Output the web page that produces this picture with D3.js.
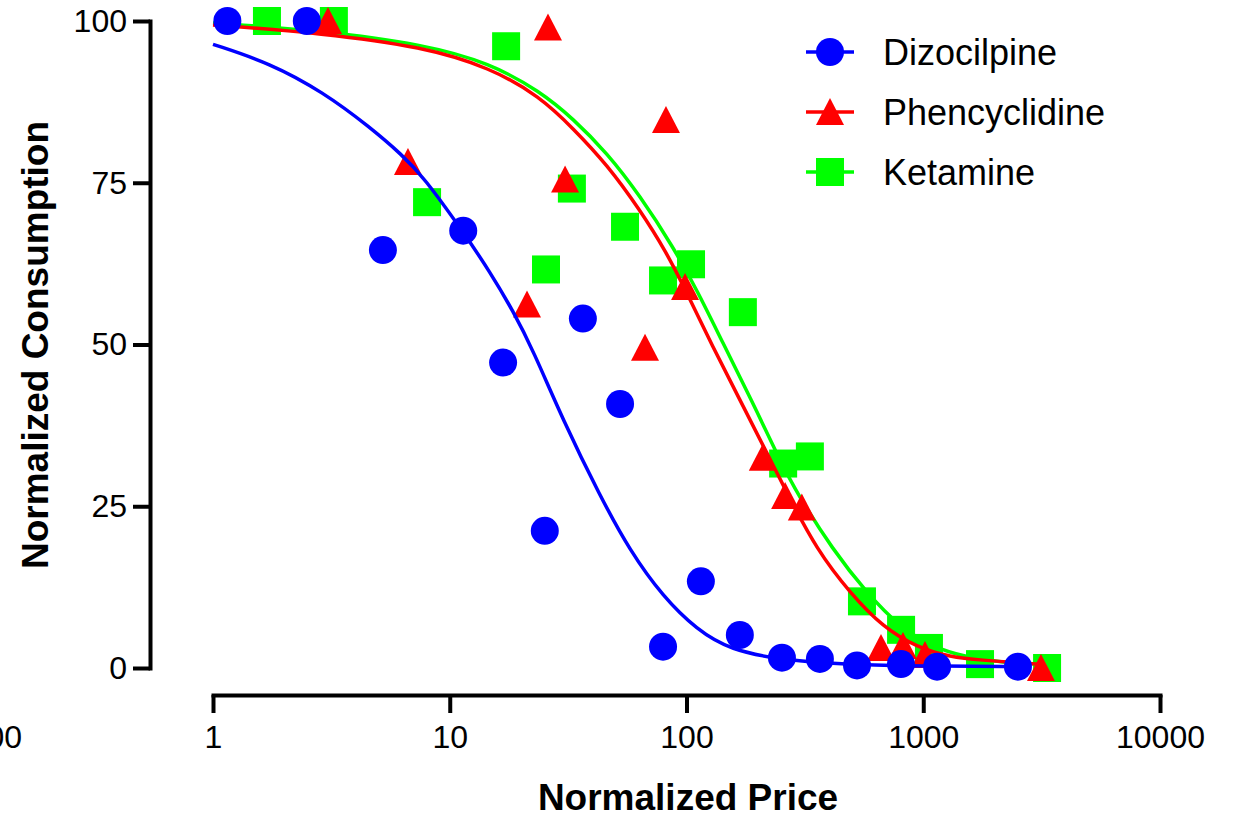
<!DOCTYPE html>
<html>
<head>
<meta charset="utf-8">
<script src="https://cdn.jsdelivr.net/npm/d3@7"></script>
<style>
  html, body { margin: 0; padding: 0; background: #fff; }
  svg { display: block; font-family: "Liberation Sans", Arial, sans-serif; }
</style>
</head>
<body>
<svg id="chart" width="1235" height="817"></svg>
<script>
// ── Data ──────────────────────────────────────────────
const seriesNames  = ['Dizocilpine', 'Phencyclidine', 'Ketamine'];
const seriesColors = ['#0000ff', '#ff0000', '#00ff00'];

// observed points: [normalized price, normalized consumption]
const dizocilpinePts = [
  [1.15, 100], [2.49, 100], [5.22, 64.6], [11.4, 67.6], [16.8, 47.2], [25.2, 21.2],
  [36.5, 54.0], [52.4, 40.8], [79.6, 3.3], [115, 13.4], [168, 5.1], [253, 1.6],
  [366, 1.4], [525, 0.4], [805, 0.6], [1144, 0.2], [2512, 0.2]
];
const phencyclidinePts = [
  [3.06, 100], [26.0, 99.0], [81.9, 84.7], [6.66, 78.2], [30.7, 75.5], [21.2, 56.2],
  [66.8, 49.5], [98.6, 58.9], [210, 32.5], [261, 26.6], [307, 24.8], [663, 3.1],
  [821, 3.4], [1017, 2.0], [3142, 0.0]
];
const ketaminePts = [
  [1.69, 100], [3.24, 100], [17.3, 96.1], [8.02, 72.0], [32.8, 74.1], [25.5, 61.6],
  [55.0, 68.2], [79.6, 59.9], [104.5, 62.4], [173, 55.0], [256, 31.6], [332, 32.7],
  [551, 10.3], [806, 5.9], [1057, 3.1], [1737, 0.6], [3334, 0.0]
];

// fitted curves
const dizocilpineFit = [
  [1.0, 96.4], [1.74, 93.5], [2.92, 89.0], [4.60, 83.6], [6.29, 79.3], [7.71, 76.0],
  [11.4, 67.4], [14.8, 61.2], [18.5, 55.2], [22.5, 49.1], [30.1, 38.3], [43.1, 26.6],
  [57.7, 18.1], [79.6, 11.0], [110.7, 5.9], [152.7, 2.8], [256, 1.2], [490, 0.5],
  [1000, 0.3], [2490, 0.2]
];
const phencyclidineFit = [
  [1.0, 99.4], [2.91, 98.1], [7.71, 96.0], [14.8, 92.8], [24.1, 88.3], [33.2, 83.4],
  [46.2, 77.8], [63.6, 70.8], [82.7, 64.1], [97.5, 58.9], [129.3, 49.6], [168.3, 41.4],
  [219, 33.2], [266, 27.0], [356, 18.2], [491, 11.6], [676, 6.3], [942, 3.2],
  [1298, 1.7], [1787, 1.2], [2489, 0.8], [3113, 0.6]
];
const ketamineFit = [
  [1.0, 99.7], [2.91, 98.5], [7.71, 96.4], [14.8, 93.5], [24.1, 89.1], [33.2, 84.9],
  [46.2, 79.6], [63.6, 73.0], [87.7, 65.1], [110.8, 58.4], [142.6, 50.2], [185.4, 41.9],
  [248, 32.1], [293, 27.0], [416, 18.2], [578, 11.6], [798, 6.3], [1099, 3.2],
  [1516, 1.7], [2109, 0.9], [3113, 0.6]
];

const xMajorTicks = [1, 10, 100, 1000, 10000];
const yTicks      = [0, 25, 50, 75, 100];

(function () {
  const svg = d3.select('#chart');

  const x = d3.scaleLog().domain([1, 10000]).range([213, 1160]);
  const y = d3.scaleLinear().domain([0, 100]).range([668, 21]);

  // ── Axes ─────────────────────────────────────────────
  const xMinor = [];
  xMajorTicks.slice(0, -1).forEach(d => { for (let k = 2; k <= 9; k++) xMinor.push(d * k); });

  const xAxisG = svg.append('g').attr('transform', 'translate(0,695)');
  xAxisG.call(d3.axisBottom(x).tickValues(xMinor).tickSize(10).tickSizeOuter(0).tickFormat(''));
  xAxisG.call(d3.axisBottom(x).tickValues(xMajorTicks).tickSize(18).tickSizeOuter(0)
    .tickPadding(12).tickFormat(d3.format('d')));

  const yAxisG = svg.append('g').attr('transform', 'translate(150,0)');
  yAxisG.call(d3.axisLeft(y).tickValues(yTicks).tickSize(17).tickSizeOuter(0).tickPadding(6));

  svg.selectAll('.domain').attr('stroke', '#000').attr('stroke-width', 4).attr('stroke-linecap', 'square');
  svg.selectAll('.tick line').attr('stroke', '#000').attr('stroke-width', 4);
  svg.selectAll('.tick text').attr('font-size', 32).attr('fill', '#000')
    .attr('font-family', '"Liberation Sans", Arial, sans-serif');

  // stray label cut at the left edge, as in the reference
  svg.append('text').attr('x', 22).attr('y', 695 + 30 + 23)
    .attr('text-anchor', 'end').attr('font-size', 32).text('100');

  // titles
  svg.append('text').attr('x', 688).attr('y', 810).attr('text-anchor', 'middle')
    .attr('font-size', 37).attr('font-weight', 'bold').text('Normalized Price');
  svg.append('text').attr('transform', 'translate(48,345) rotate(-90)').attr('text-anchor', 'middle')
    .attr('font-size', 37).attr('font-weight', 'bold').text('Normalized Consumption');

  // ── Marks ────────────────────────────────────────────
  const line = d3.line().x(d => x(d[0])).y(d => y(d[1])).curve(d3.curveBasis);

  const drawSymbol = (g, kind, cx, cy, col) => {
    if (kind === 'circle') {
      g.append('circle').attr('cx', cx).attr('cy', cy).attr('r', 14).attr('fill', col);
    } else if (kind === 'square') {
      g.append('rect').attr('x', cx - 14).attr('y', cy - 14).attr('width', 28).attr('height', 28).attr('fill', col);
    } else {
      g.append('path').attr('d', `M${cx},${cy - 14}L${cx + 14},${cy + 13}L${cx - 14},${cy + 13}Z`).attr('fill', col);
    }
  };

  const series = [
    { pts: dizocilpinePts,   fit: dizocilpineFit,   sym: 'circle' },
    { pts: phencyclidinePts, fit: phencyclidineFit, sym: 'triangle' },
    { pts: ketaminePts,      fit: ketamineFit,      sym: 'square' },
  ].map((s, i) => Object.assign(s, { name: seriesNames[i], color: seriesColors[i] }));

  // last series underneath, as in the reference
  series.slice().reverse().forEach(s => {
    const g = svg.append('g');
    g.append('path').datum(s.fit).attr('d', line)
      .attr('fill', 'none').attr('stroke', s.color).attr('stroke-width', 3.5);
    s.pts.forEach(p => drawSymbol(g, s.sym, x(p[0]), y(p[1]), s.color));
  });

  // ── Legend ───────────────────────────────────────────
  const legendRows = [52, 112, 172];
  series.forEach((s, i) => {
    const g = svg.append('g').attr('transform', `translate(0,${legendRows[i]})`);
    g.append('line').attr('x1', 806).attr('x2', 854).attr('y1', 0).attr('y2', 0)
      .attr('stroke', s.color).attr('stroke-width', 3.5);
    drawSymbol(g, s.sym, 830, 0, s.color);
    g.append('text').attr('x', 883).attr('y', 0).attr('dy', '0.36em')
      .attr('font-size', 36).text(s.name);
  });
})();
</script>
</body>
</html>
